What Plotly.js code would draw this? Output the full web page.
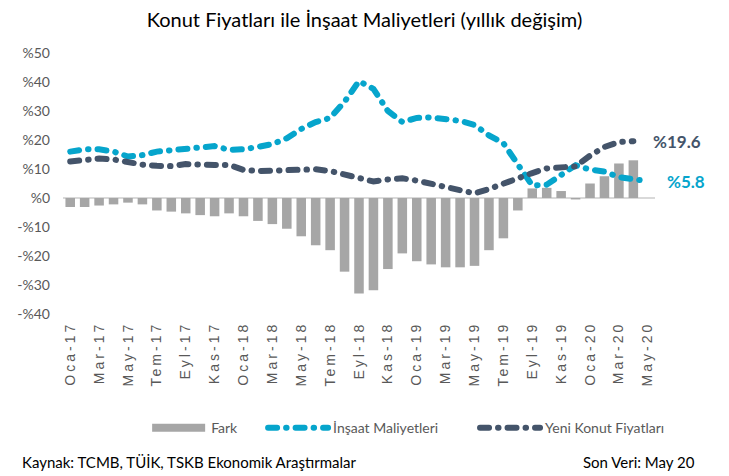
<!DOCTYPE html>
<html>
<head>
<meta charset="utf-8">
<script src="https://cdn.plot.ly/plotly-3.0.1.min.js"></script>
<style>
  html, body { margin: 0; padding: 0; background: #fff; }
  #chart { width: 729px; height: 476px; }
  .js-line { stroke-linecap: round; }
  .xtick text { letter-spacing: 3px; }
</style>
</head>
<body>
<div id="chart"></div>
<script>
const months = [
  "Oca-17","Şub-17","Mar-17","Nis-17","May-17","Haz-17","Tem-17","Ağu-17","Eyl-17","Eki-17","Kas-17","Ara-17",
  "Oca-18","Şub-18","Mar-18","Nis-18","May-18","Haz-18","Tem-18","Ağu-18","Eyl-18","Eki-18","Kas-18","Ara-18",
  "Oca-19","Şub-19","Mar-19","Nis-19","May-19","Haz-19","Tem-19","Ağu-19","Eyl-19","Eki-19","Kas-19","Ara-19",
  "Oca-20","Şub-20","Mar-20","Nis-20","May-20"
];
const tickLabels = ["Oca-17","Mar-17","May-17","Tem-17","Eyl-17","Kas-17","Oca-18","Mar-18","May-18","Tem-18",
  "Eyl-18","Kas-18","Oca-19","Mar-19","May-19","Tem-19","Eyl-19","Kas-19","Oca-20","Mar-20","May-20"];

const fark = [-3.1,-3.1,-2.6,-2.2,-1.6,-2.2,-4.3,-4.7,-5.3,-5.9,-6.3,-5.3,
  -6.3,-7.9,-9.0,-10.6,-13.2,-16.3,-18.0,-25.4,-32.9,-31.8,-24.5,-19.1,
  -21.8,-22.9,-23.9,-23.9,-23.4,-18.0,-13.9,-4.3,3.3,3.5,2.4,-0.5,
  5.0,7.5,11.9,13.0,null];
const insaat = [16.0,16.8,16.8,16.0,14.3,14.8,16.0,16.5,17.2,17.9,17.9,16.6,
  16.8,17.6,18.6,20.6,23.8,26.2,27.6,33.2,40.3,37.6,30.0,26.2,
  27.6,27.8,27.1,26.6,25.2,21.6,18.9,11.8,4.3,4.6,8.0,11.3,
  9.8,9.1,7.2,6.3,5.8];
const konut = [12.6,12.9,13.6,13.3,12.3,11.5,11.1,11.0,11.7,11.8,11.4,11.4,
  9.7,9.3,9.5,9.9,10.1,9.9,9.3,8.0,6.9,5.7,6.4,6.8,
  6.0,4.9,3.6,2.7,1.6,3.1,4.9,7.2,8.6,10.2,10.7,10.9,
  14.6,17.6,19.3,19.6,null];
const yTickVals = [50,40,30,20,10,0,-10,-20,-30,-40];
const yTickText = ["%50","%40","%30","%20","%10","%0","-%10","-%20","-%30","-%40"];

const TEAL = "#06A5CC";
const DARK = "#44546A";
const GREY = "#A6A6A6";
const CAL = "Lato, 'Open Sans', sans-serif";
const DASH = "9px,9px,0.5px,9px";

const traces = [
  { type: "bar", name: "Fark", x: months, y: fark, marker: { color: GREY },
    legend: "legend", hoverinfo: "skip" },
  { type: "scatter", mode: "lines", name: "İnşaat Maliyetleri", x: months, y: insaat,
    line: { color: TEAL, width: 6, dash: DASH }, legend: "legend2", connectgaps: false },
  { type: "scatter", mode: "lines", name: "Yeni Konut Fiyatları", x: months, y: konut,
    line: { color: DARK, width: 6, dash: DASH }, legend: "legend3", connectgaps: false }
];

const legendBase = { orientation: "h", yanchor: "middle", y: -0.437, xanchor: "left",
  font: { family: CAL, size: 14, color: "#595959" }, bgcolor: "rgba(0,0,0,0)", itemwidth: 60 };

const layout = {
  width: 729, height: 476,
  margin: { l: 63, r: 74, t: 53, b: 162 },
  paper_bgcolor: "#fff", plot_bgcolor: "#fff",
  title: { text: "Konut Fiyatları ile İnşaat Maliyetleri (yıllık değişim)",
    font: { family: CAL, size: 20, color: "#000" }, x: 0.5, xanchor: "center", y: 0.957, yanchor: "middle" },
  bargap: 0.34,
  xaxis: { type: "category", tickmode: "array", tickvals: tickLabels, ticktext: tickLabels,
    tickangle: -90, tickfont: { family: "'Liberation Sans', Arial, sans-serif", size: 14, color: "#595959" },
    showgrid: false, showline: false, zeroline: false, ticks: "", range: [-0.5, 40.5], ticklabelstandoff: 4 },
  yaxis: { range: [-40, 50], tickmode: "array", tickvals: yTickVals, ticktext: yTickText,
    tickfont: { family: CAL, size: 14, color: "#595959" }, showgrid: false, showline: false,
    zeroline: true, zerolinecolor: "#D9D9D9", zerolinewidth: 2, ticks: "", ticklabelstandoff: 12 },
  showlegend: true,
  legend: Object.assign({}, legendBase, { x: 0.132 }),
  legend2: Object.assign({}, legendBase, { x: 0.338 }),
  legend3: Object.assign({}, legendBase, { x: 0.696 }),
  annotations: [
    { xref: "paper", yref: "y", x: 1.0, y: 19.6, xanchor: "left", yanchor: "middle", xshift: -4,
      text: "<b>%19.6</b>", showarrow: false, font: { family: CAL, size: 17, color: DARK } },
    { xref: "paper", yref: "y", x: 1.0, y: 5.8, xanchor: "left", yanchor: "middle", xshift: 10,
      text: "<b>%5.8</b>", showarrow: false, font: { family: CAL, size: 17, color: TEAL } },
    { xref: "paper", yref: "paper", x: -0.073, y: -0.566, xanchor: "left", yanchor: "middle",
      text: "Kaynak: TCMB, TÜİK, TSKB Ekonomik Araştırmalar", showarrow: false,
      font: { family: CAL, size: 15, color: "#000" } },
    { xref: "paper", yref: "paper", x: 1.071, y: -0.566, xanchor: "right", yanchor: "middle",
      text: "Son Veri: May 20", showarrow: false, font: { family: CAL, size: 15, color: "#000" } }
  ]
};

Plotly.newPlot("chart", traces, layout, { displayModeBar: false, staticPlot: true }).then(function () {
  // widen legend swatches to match the reference's long symbols
  document.querySelectorAll("g.traces").forEach(function (tr) {
    const txt = tr.querySelector(".legendtext");
    if (!txt) return;
    const tx = parseFloat(txt.getAttribute("x")) || 70;
    const right = tx - 6, left = right - 53;
    const line = tr.querySelector(".legendlines path");
    if (line) {
      line.setAttribute("d", "M" + left + ",0h53");
    } else {
      const bar = tr.querySelector(".legendpoints path");
      if (bar) {
        bar.setAttribute("d", "M" + left + ",-4h53v8h-53Z");
        bar.removeAttribute("transform");
      }
    }
  });
});
</script>
</body>
</html>
